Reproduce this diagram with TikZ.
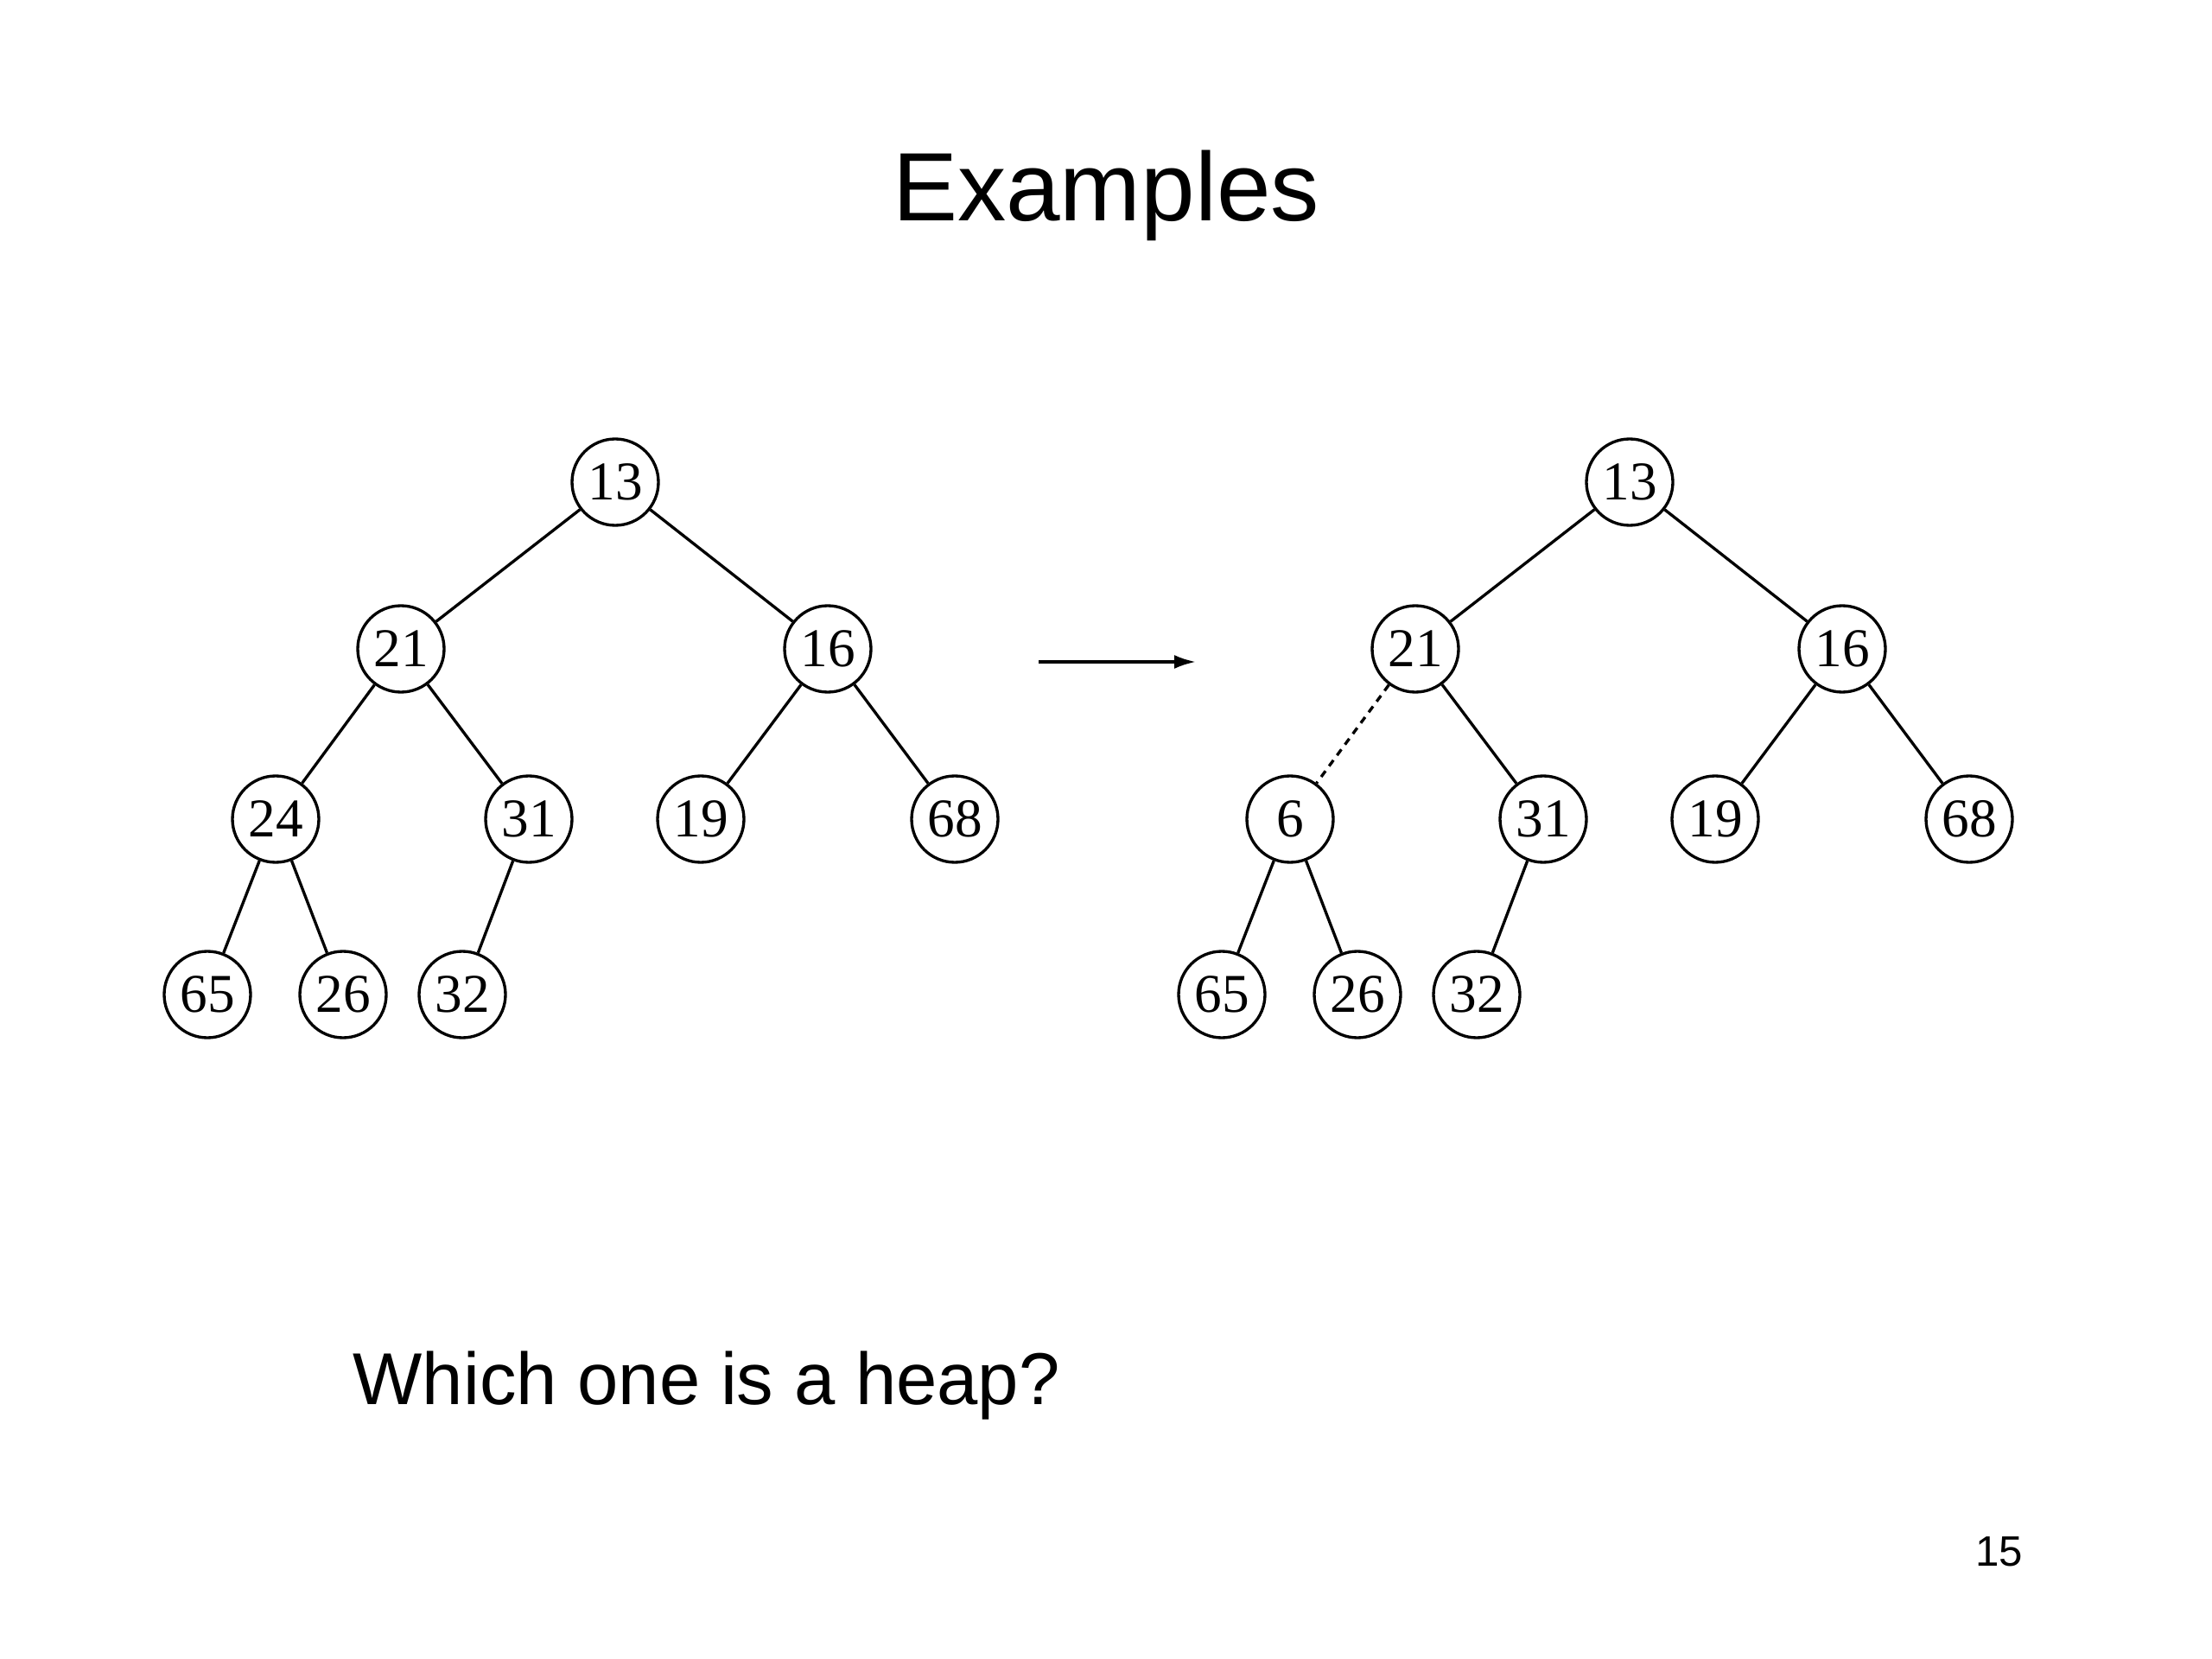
\documentclass[tikz,border=0pt]{standalone}
\usepackage{fontspec}
\setmainfont{Liberation Serif}
\newfontfamily\slidefont{Liberation Sans}
\usetikzlibrary{arrows.meta,positioning}
\tikzset{
  key/.style={
    draw, circle, line width=.95pt, minimum size=1cm, inner sep=0pt,
    font=\fontsize{18}{18}\selectfont
  },
  link/.style={line width=.95pt},
  swapped/.style={link,dash pattern=on 2.4pt off 2pt},
  arr/.style={-{Latex[length=2.5mm,width=1.6mm]},line width=.95pt},
  heading/.style={font=\slidefont\fontsize{32}{32}\selectfont},
  question/.style={font=\slidefont\fontsize{24.2}{24.2}\selectfont},
  pagenum/.style={font=\slidefont\fontsize{14}{14}\selectfont}
}

\begin{document}
\begin{tikzpicture}[x=1cm,y=-1cm]
  \useasboundingbox (0,0) rectangle (25.6,19.2);
  \node[heading,anchor=base] (title) at (12.8,2.56) {Examples};

  % first tree
  \node[key] (a13) at (7.12,5.58) {13};
  \node[key] (a21) at (4.64,7.51) {21};
  \node[key] (a16) at (9.58,7.51) {16};
  \node[key] (a24) at (3.19,9.48) {24};
  \node[key] (a31) at (6.12,9.48) {31};
  \node[key] (a19) at (8.11,9.48) {19};
  \node[key] (a68) at (11.05,9.48) {68};
  \node[key] (a65) at (2.40,11.51) {65};
  \node[key] (a26) at (3.97,11.51) {26};
  \node[key] (a32) at (5.35,11.51) {32};
  \draw[link] (a13)--(a21);
  \draw[link] (a13)--(a16);
  \draw[link] (a21)--(a24);
  \draw[link] (a21)--(a31);
  \draw[link] (a16)--(a19);
  \draw[link] (a16)--(a68);
  \draw[link] (a24)--(a65);
  \draw[link] (a24)--(a26);
  \draw[link] (a31)--(a32);

  % second tree, with 6 in place of 24
  \begin{scope}[xshift=11.74cm]
    \node[key] (b13) at (7.12,5.58) {13};
    \node[key] (b21) at (4.64,7.51) {21};
    \node[key] (b16) at (9.58,7.51) {16};
    \node[key] (b6) at (3.19,9.48) {6};
    \node[key] (b31) at (6.12,9.48) {31};
    \node[key] (b19) at (8.11,9.48) {19};
    \node[key] (b68) at (11.05,9.48) {68};
    \node[key] (b65) at (2.40,11.51) {65};
    \node[key] (b26) at (3.97,11.51) {26};
    \node[key] (b32) at (5.35,11.51) {32};
  \end{scope}
  \draw[link] (b13)--(b21);
  \draw[link] (b13)--(b16);
  \draw[swapped] (b21)--(b6);
  \draw[link] (b21)--(b31);
  \draw[link] (b16)--(b19);
  \draw[link] (b16)--(b68);
  \draw[link] (b6)--(b65);
  \draw[link] (b6)--(b26);
  \draw[link] (b31)--(b32);

  \coordinate (from) at (12.02,7.66);
  \coordinate (to) at (13.84,7.66);
  \draw[arr] (from)--(to);

  \node[question,anchor=base west,inner sep=0pt] (ask) at (4.08,16.25) {Which one is a heap?};
  \node[pagenum,anchor=base east,inner sep=0pt] (page) at (23.42,18.12) {15};
\end{tikzpicture}
\end{document}
